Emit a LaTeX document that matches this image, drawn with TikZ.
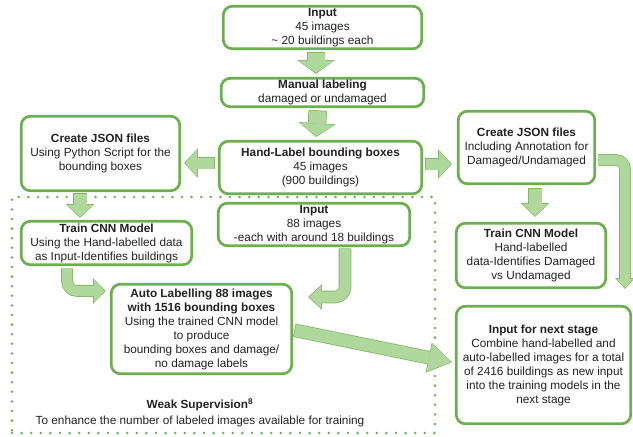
\documentclass[tikz,border=0pt]{standalone}
\usepackage{fontspec}
\setmainfont{Liberation Sans}
\usetikzlibrary{arrows.meta}
\definecolor{boxgreen}{RGB}{108,176,78}
\definecolor{arrowfill}{RGB}{176,215,156}
\definecolor{arrowedge}{RGB}{128,186,104}
\definecolor{textcol}{RGB}{34,34,34}
\newcommand\fatarr[6]{%
  \pgfmathsetmacro\faA{#1+1.6}\pgfmathsetmacro\faB{#2+2.8}\pgfmathsetmacro\faC{#3+1.8}%
  \pgfmathsetmacro\faS{#4-0.8}\pgfmathsetmacro\faE{#5+1.1}%
  \draw[draw=arrowedge, line width=\faA pt, shorten <=\faS pt, shorten >=#5pt,
        -{Triangle[width=\faB pt, length=\faC pt, line width=0pt]}] #6;
  \draw[draw=arrowfill, line width=#1pt, shorten <=#4pt, shorten >=\faE pt,
        -{Triangle[width=#2pt, length=#3pt, line width=0pt]}] #6;
}
\tikzset{
  box/.style={draw=boxgreen, line width=2.7pt, rounded corners=9pt, fill=white,
    align=center, inner sep=1pt, text=textcol,
    font=\fontsize{11.8}{14}\selectfont},
  dotframe/.style={draw=boxgreen, line width=2.8pt, line cap=round,
    dash pattern=on 0pt off 9.6pt, inner sep=0pt},
  plain/.style={align=center, text=textcol, inner sep=0pt,
    font=\fontsize{11.8}{16}\selectfont}
}
\begin{document}
\begin{tikzpicture}[x=1pt,y=-1pt]
\useasboundingbox (0,0) rectangle (633,437);
% weak supervision frame
\node[dotframe, minimum width=423pt, minimum height=236pt] (ws) at (223.5,315) {};
\node[plain] (wslabel) at (200,413) {\textbf{Weak Supervision\textsuperscript{8}}\\To enhance the number of labeled images available for training};
% boxes
\node[box, minimum width=198.5pt, minimum height=42.5pt] (in1) at (322.5,27.5) {\textbf{Input}\\45 images\\\textasciitilde{} 20 buildings each};
\node[box, minimum width=202.5pt, minimum height=28.5pt] (man) at (322.5,92.5) {\textbf{Manual labeling}\\damaged or undamaged};
\node[box, minimum width=202.5pt, minimum height=52.5pt] (hl) at (320.5,167.5) {\textbf{Hand-Label bounding boxes}\\45 images\\(900 buildings)};
\node[box, minimum width=158.5pt, minimum height=74.5pt] (jl) at (100.5,153.5) {\textbf{Create JSON files}\\Using Python Script for the\\bounding boxes};
\node[box, minimum width=170.5pt, minimum height=43.5pt] (tl) at (106.5,243) {\textbf{Train CNN Model}\\Using the Hand-labelled data\\as Input-Identifies buildings};
\node[box, minimum width=191.5pt, minimum height=42.5pt] (in2) at (314,224.5) {\textbf{Input}\\88 images\\-each with around 18 buildings};
\node[box, minimum width=180.5pt, minimum height=89.5pt] (al) at (201.5,329) {\textbf{Auto Labelling 88 images}\\\textbf{with 1516 bounding boxes}\\Using the trained CNN model\\to produce\\bounding boxes and damage/\\no damage labels};
\node[box, minimum width=136.5pt, minimum height=72.5pt] (jr) at (526.5,147.5) {\textbf{Create JSON files}\\Including Annotation for\\Damaged/Undamaged};
\node[box, minimum width=149.5pt, minimum height=64.5pt] (tr) at (531,255.5) {\textbf{Train CNN Model}\\Hand-labelled\\data-Identifies Damaged\\vs Undamaged};
\node[box, minimum width=174.5pt, minimum height=117.5pt] (nx) at (543.5,365) {\textbf{Input for next stage}\\Combine hand-labelled and\\auto-labelled images for a total\\of 2416 buildings as new input\\into the training models in the\\next stage};
% arrows
\fatarr{17}{35}{12}{3}{3}{([xshift=-6.5pt]in1.south) -- ([xshift=-6.5pt]man.north)}
\fatarr{17}{35}{12}{3}{3}{([xshift=-4.5pt]man.south) -- ([xshift=-4.5pt]hl.north)}
\fatarr{11}{27}{12}{4}{3}{([yshift=4.5pt]hl.west) -- ([yshift=-9.5pt]jl.east)}
\fatarr{11}{27}{12}{3}{5}{([yshift=3.5pt]hl.east) -- ([yshift=-16.5pt]jr.east -| jr.west)}
\fatarr{13}{26}{12}{2}{2}{([xshift=-20.5pt]jl.south) -- ([xshift=-26.5pt]tl.north)}
\fatarr{13}{26}{12}{4}{5}{([xshift=8.5pt]jr.south) -- ([xshift=4pt]tr.north)}
\fatarr{10}{17}{9}{3}{16}{([yshift=-12.5pt]jr.east) [rounded corners=9pt] -| ([xshift=81.5pt]nx.north)}
\fatarr{10}{23}{11}{3}{4}{([xshift=-39.5pt]tl.south) [rounded corners=10pt] |- ([yshift=38pt]al.west)}
\fatarr{11}{23}{12}{2}{15}{([xshift=31pt]in2.south) [rounded corners=10pt] |- ([yshift=32pt]al.east)}
\fatarr{12}{28}{22}{2}{3}{([yshift=-1pt]al.east) -- ([yshift=2pt]nx.west)}
\end{tikzpicture}
\end{document}
